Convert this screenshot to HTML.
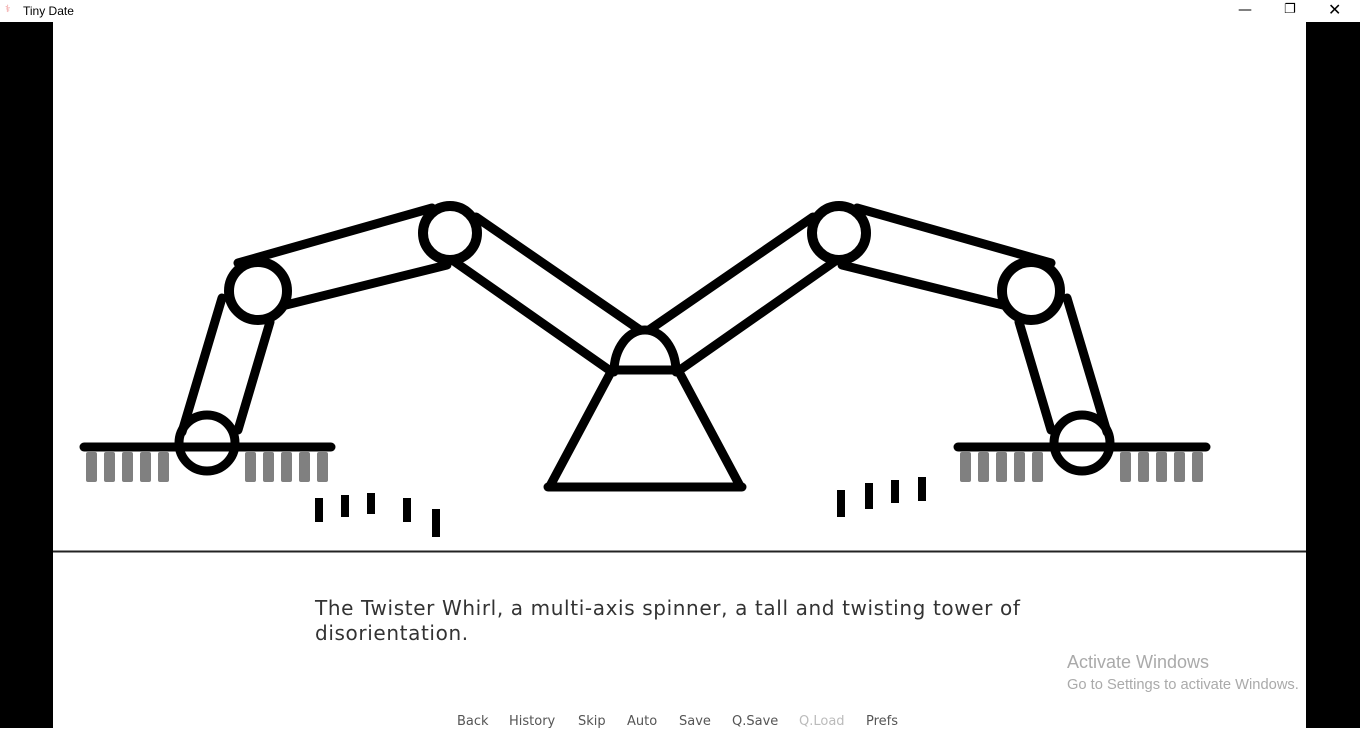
<!DOCTYPE html>
<html><head><meta charset="utf-8"><style>
html,body{margin:0;padding:0;width:1360px;height:728px;overflow:hidden;background:#fff;font-family:"DejaVu Sans","Liberation Sans",sans-serif;}
.abs{position:absolute;}
</style></head><body>
<div class="abs" style="left:0;top:0;width:1360px;height:22px;background:#fff;"></div>
<div class="abs" style="left:23px;top:4px;font-family:'Liberation Sans',sans-serif;font-size:12px;color:#000;">Tiny Date</div>
<div class="abs" style="left:5px;top:4px;width:10px;height:14px;color:#e88;font-size:10px;">⚕</div>
<div class="abs" style="left:1238px;top:2px;font-size:14px;color:#000;">—</div>
<div class="abs" style="left:1284px;top:2px;font-size:13px;color:#000;">❐</div>
<div class="abs" style="left:1328px;top:0px;font-size:16px;color:#000;">✕</div>
<div class="abs" style="left:0;top:22px;width:53px;height:706px;background:#000;"></div>
<div class="abs" style="left:1306px;top:22px;width:54px;height:706px;background:#000;"></div>
<svg class="abs" style="left:0;top:0" width="1360" height="728" viewBox="0 0 1360 728">
<g stroke="#000" stroke-width="9" fill="none" stroke-linecap="round">
<g id="arm">
<line x1="182" y1="432" x2="222" y2="298"/>
<line x1="238" y1="430" x2="270" y2="322"/>
<line x1="238" y1="263" x2="432" y2="208"/>
<line x1="286" y1="305" x2="447" y2="265"/>
<line x1="476" y1="217" x2="640" y2="330"/>
<line x1="455" y1="262" x2="612" y2="372"/>
<circle cx="207" cy="443" r="28"/>
<circle cx="258" cy="291" r="29" stroke-width="10" fill="#fff"/>
<circle cx="450" cy="233" r="27" stroke-width="10" fill="#fff"/>
<line x1="84" y1="447" x2="331" y2="447" stroke-width="9"/>
</g>
<g transform="translate(1289,0) scale(-1,1)">
<line x1="182" y1="432" x2="222" y2="298"/>
<line x1="238" y1="430" x2="270" y2="322"/>
<line x1="238" y1="263" x2="432" y2="208"/>
<line x1="286" y1="305" x2="447" y2="265"/>
<line x1="476" y1="217" x2="640" y2="330"/>
<line x1="455" y1="262" x2="612" y2="372"/>
<circle cx="207" cy="443" r="28"/>
<circle cx="258" cy="291" r="29" stroke-width="10" fill="#fff"/>
<circle cx="450" cy="233" r="27" stroke-width="10" fill="#fff"/>
</g>
<line x1="958" y1="447" x2="1206" y2="447" stroke-width="9"/>
<path d="M614 372 A31 42 0 0 1 676 372" stroke-width="9"/>
<line x1="612" y1="370" x2="678" y2="370" stroke-width="9"/>
<line x1="612" y1="370" x2="550" y2="486"/>
<line x1="678" y1="370" x2="740" y2="486"/>
<line x1="548" y1="487" x2="742" y2="487" stroke-width="9"/>
</g>
<g fill="#808080">
<rect x="86" y="452" width="11" height="30" rx="2"/><rect x="104" y="452" width="11" height="30" rx="2"/><rect x="122" y="452" width="11" height="30" rx="2"/><rect x="140" y="452" width="11" height="30" rx="2"/><rect x="158" y="452" width="11" height="30" rx="2"/>
<rect x="245" y="452" width="11" height="30" rx="2"/><rect x="263" y="452" width="11" height="30" rx="2"/><rect x="281" y="452" width="11" height="30" rx="2"/><rect x="299" y="452" width="11" height="30" rx="2"/><rect x="317" y="452" width="11" height="30" rx="2"/>
<rect x="960" y="452" width="11" height="30" rx="2"/><rect x="978" y="452" width="11" height="30" rx="2"/><rect x="996" y="452" width="11" height="30" rx="2"/><rect x="1014" y="452" width="11" height="30" rx="2"/><rect x="1032" y="452" width="11" height="30" rx="2"/>
<rect x="1120" y="452" width="11" height="30" rx="2"/><rect x="1138" y="452" width="11" height="30" rx="2"/><rect x="1156" y="452" width="11" height="30" rx="2"/><rect x="1174" y="452" width="11" height="30" rx="2"/><rect x="1192" y="452" width="11" height="30" rx="2"/>
</g>
<g fill="#000">
<rect x="315" y="498" width="8" height="24"/><rect x="341" y="495" width="8" height="22"/><rect x="367" y="493" width="8" height="21"/><rect x="403" y="498" width="8" height="24"/><rect x="432" y="509" width="8" height="28"/>
<rect x="837" y="490" width="8" height="27"/><rect x="865" y="483" width="8" height="26"/><rect x="891" y="480" width="8" height="23"/><rect x="918" y="477" width="8" height="24"/>
</g>
<line x1="53" y1="551.5" x2="1306" y2="551.5" stroke="#222" stroke-width="2"/>
</svg>
<div class="abs" style="left:315px;top:596px;width:760px;font-size:20px;line-height:25px;letter-spacing:0.62px;color:#333;">The Twister Whirl, a multi-axis spinner, a tall and twisting tower of<br>disorientation.</div>
<div class="abs" style="left:1067px;top:652px;font-family:'Liberation Sans',sans-serif;font-size:18px;color:#aaa;">Activate Windows</div>
<div class="abs" style="left:1067px;top:677px;font-family:'Liberation Sans',sans-serif;font-size:14.7px;color:#aaa;">Go to Settings to activate Windows.</div>
<div class="abs" style="left:457px;top:714px;font-size:13px;color:#555;white-space:nowrap;">
<span style="position:absolute;left:0">Back</span>
<span style="position:absolute;left:52px">History</span>
<span style="position:absolute;left:121px">Skip</span>
<span style="position:absolute;left:170px">Auto</span>
<span style="position:absolute;left:222px">Save</span>
<span style="position:absolute;left:275px">Q.Save</span>
<span style="position:absolute;left:342px;color:#bbb">Q.Load</span>
<span style="position:absolute;left:409px">Prefs</span>
</div>
</body></html>
